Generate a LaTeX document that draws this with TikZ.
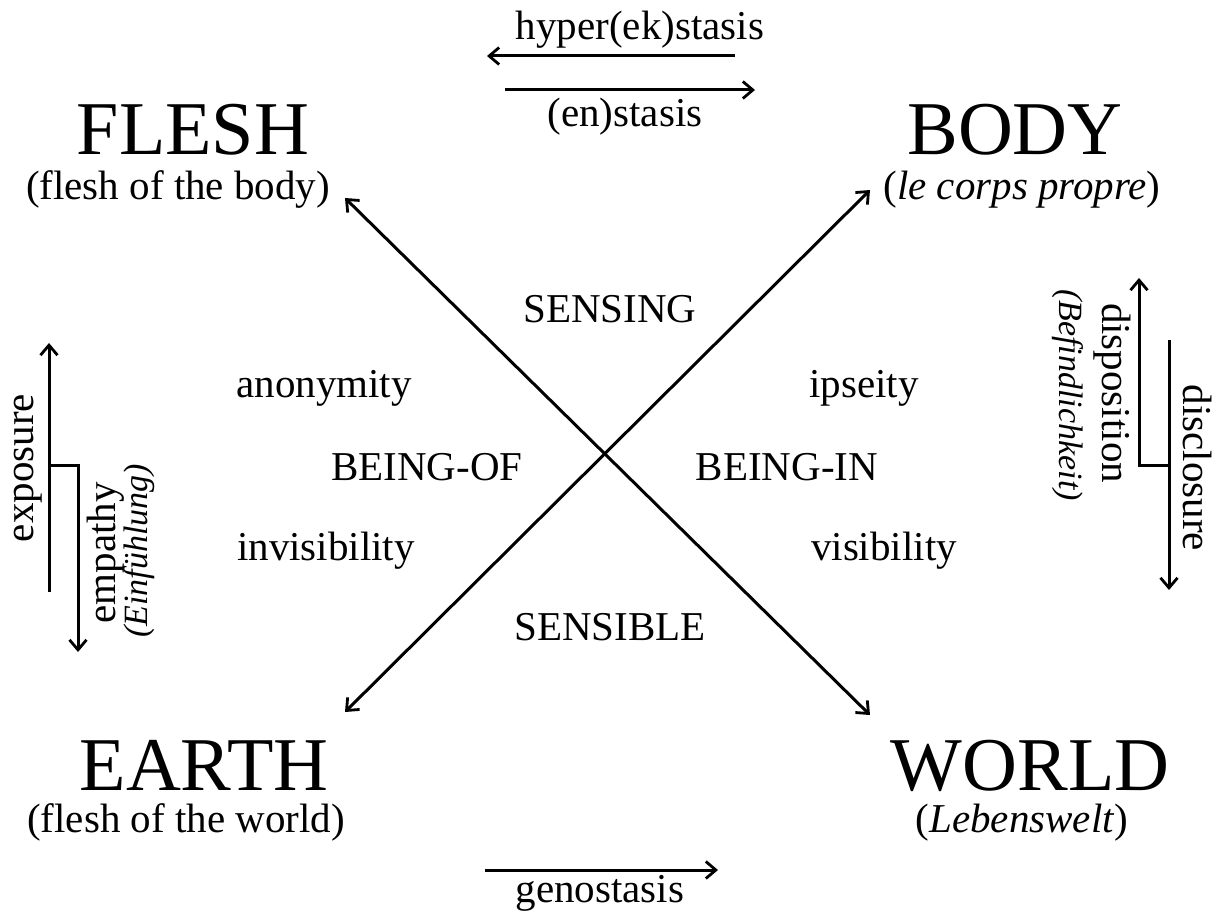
\documentclass[tikz,border=0pt]{standalone}
\usepackage{fontspec}
\setmainfont{Liberation Serif}
\usetikzlibrary{arrows.meta}
\begin{document}
\begin{tikzpicture}[x=1pt,y=-1pt,
  conn/.style={line width=3pt,>={Straight Barb[length=10pt,width=17pt,line width=2.8pt]}},
  big/.style={anchor=base,inner sep=0pt,font=\fontsize{76}{76}\selectfont},
  lbl/.style={anchor=base,inner sep=0pt,font=\fontsize{41}{41}\selectfont},
  rl/.style={anchor=base,inner sep=0pt,font=\fontsize{41}{41}\selectfont},
  rs/.style={anchor=base,inner sep=0pt,font=\fontsize{34}{34}\selectfont\itshape}]
\useasboundingbox (0,0) rectangle (1222,917);
% corner labels
\node[big] (flesh) at (193,155) {FLESH};
\node[lbl] (fleshs) at (178,200) {(flesh of the body)};
\node[big] (body) at (1015,155) {BODY};
\node[lbl] (bodys) at (1022,200) {(\textit{le corps propre})};
\node[big] (earth) at (204,790) {EARTH};
\node[lbl] (earths) at (186,832) {(flesh of the world)};
\node[big] (world) at (1030,790) {WORLD};
\node[lbl] (worlds) at (1022,832) {(\textit{Lebenswelt})};
% cross
\coordinate (fl) at (345,198);
\coordinate (bd) at (870,190);
\coordinate (ea) at (345,712);
\coordinate (wo) at (870,715);
\draw[conn,<->] (fl) -- (wo);
\draw[conn,<->] (ea) -- (bd);
% inner labels
\node[lbl] (sensing) at (610,322) {SENSING};
\node[lbl] (anon) at (324,397) {anonymity};
\node[lbl] (ips) at (864,397) {ipseity};
\node[lbl] (beof) at (427,480) {BEING-OF};
\node[lbl] (bein) at (787,480) {BEING-IN};
\node[lbl] (invis) at (326,560) {invisibility};
\node[lbl] (vis) at (884,560) {visibility};
\node[lbl] (sensible) at (610,640) {SENSIBLE};
% top arrows
\node[lbl] (hyper) at (640,40) {hyper(ek)stasis};
\coordinate (h1) at (735,56);
\coordinate (h2) at (487,56);
\draw[conn,->] (h1) -- (h2);
\coordinate (e1) at (505,90);
\coordinate (e2) at (755,90);
\draw[conn,->] (e1) -- (e2);
\node[lbl] (en) at (625,127) {(en)stasis};
% bottom arrow
\coordinate (g1) at (485,870);
\coordinate (g2) at (718,870);
\draw[conn,->] (g1) -- (g2);
\node[lbl] (geno) at (600,902) {genostasis};
% left bracket
\coordinate (l1) at (49,592);
\coordinate (l2) at (49,343);
\coordinate (lj) at (49,465);
\coordinate (lk) at (78,465);
\coordinate (l3) at (78,652);
\draw[conn,->] (l1) -- (l2);
\draw[conn,->] (lj) -- (lk) -- (l3);
\node[rl,rotate=90] (expo) at (33,468) {exposure};
\node[rl,rotate=90] (emp) at (115,553) {empathy};
\node[rs,rotate=90] (ein) at (147,551) {(Einfühlung)};
% right bracket
\coordinate (r1) at (1139,465);
\coordinate (r2) at (1139,278);
\coordinate (rk) at (1169,465);
\coordinate (r3) at (1169,340);
\coordinate (r4) at (1169,590);
\draw[conn,->] (rk) -- (r1) -- (r2);
\draw[conn,->] (r3) -- (r4);
\node[rl,rotate=-90] (discl) at (1183,468) {disclosure};
\node[rl,rotate=-90] (dispo) at (1102,393) {disposition};
\node[rs,rotate=-90] (befind) at (1059,395) {(Befindlichkeit)};
\end{tikzpicture}
\end{document}
